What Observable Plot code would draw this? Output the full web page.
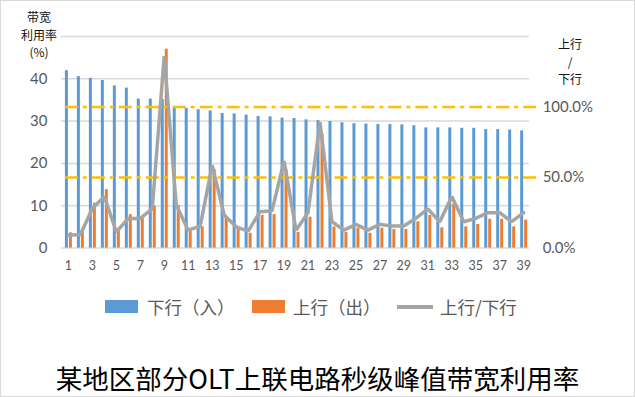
<!DOCTYPE html>
<html><head><meta charset="utf-8">
<script src="https://cdn.jsdelivr.net/npm/d3@7"></script>
<script src="https://cdn.jsdelivr.net/npm/@observablehq/plot@0.6"></script>
<style>
html,body{margin:0;padding:0;background:#fff}
#wrap{position:relative;width:635px;height:397px;box-sizing:border-box;border:1px solid #d9d9d9;overflow:hidden;font-family:"Noto Sans CJK SC","Noto Sans",sans-serif}
#chart{position:absolute;left:-1px;top:-1px}
.abs{position:absolute;white-space:nowrap}
.yt{position:absolute;width:60px;text-align:center;font-size:12px;line-height:17.5px;height:17.5px;color:#111;white-space:nowrap}
.leg{font-size:17.5px;color:#595959;line-height:20px}
.sw{position:absolute;width:33px;height:13px}
</style></head>
<body>
<div id="wrap">
  <div id="chart"></div>
  <div class="yt" style="left:8px;top:7.25px">带宽</div>
  <div class="yt" style="left:8px;top:24.75px">利用率</div>
  <div class="yt" style="left:8px;top:42.25px">(%)</div>
  <div class="yt" style="left:539px;top:34.25px">上行</div>
  <div class="yt" style="left:539px;top:51.75px">/</div>
  <div class="yt" style="left:539px;top:69.25px">下行</div>
  <div class="sw" style="left:104px;top:299px;background:#5B9BD5"></div>
  <div class="abs leg" style="left:146px;top:296px">下行（入）</div>
  <div class="sw" style="left:251px;top:299px;background:#ED7D31"></div>
  <div class="abs leg" style="left:292px;top:296px">上行（出）</div>
  <div class="abs" style="left:396px;top:304px;width:36px;height:4px;background:#A5A5A5"></div>
  <div class="abs leg" style="left:439px;top:296px">上行/下行</div>
  <div class="abs" style="left:-1px;top:359px;width:635px;text-align:center;font-size:26.5px;line-height:36px;color:#000">某地区部分OLT上联电路秒级峰值带宽利用率</div>
</div>
<script>
const categories = [1,2,3,4,5,6,7,8,9,10,11,12,13,14,15,16,17,18,19,20,21,22,23,24,25,26,27,28,29,30,31,32,33,34,35,36,37,38,39];
const downstream = [41.9,40.5,40.1,39.6,38.3,37.8,35.2,35.2,35.1,33.3,33.0,32.7,32.4,31.8,31.7,31.4,31.1,31.0,30.7,30.6,30.3,30.1,29.9,29.6,29.4,29.3,29.2,29.2,29.1,28.9,28.4,28.4,28.4,28.3,28.3,28.0,28.0,27.9,27.7];
const upstream = [3.6,3.8,10.6,13.8,4.0,7.9,7.0,9.9,47.0,10.1,4.2,5.0,18.6,7.3,4.7,3.5,7.7,7.9,18.5,3.7,7.3,27.0,5.0,3.7,4.7,3.5,4.7,4.4,4.4,6.2,7.7,4.8,10.4,5.0,5.6,6.8,6.8,5.0,6.6];
const ratioPct = [9.1,9.6,28,36.6,11.5,21,21,28,136,30.6,12.7,15.6,58.8,23.5,15.1,12,25.8,26.5,61.7,12.7,25.1,89.2,18.7,12.7,16.8,12.7,16.8,15.6,15.6,21.1,27.8,18.7,36.6,18.7,21.1,25.1,25.1,18.7,25.1];
const xTickLabels = [1,3,5,7,9,11,13,15,17,19,21,23,25,27,29,31,33,35,37,39];
const leftTicks = [0,10,20,30,40,50];
const leftLabelTicks = [0,10,20,30,40];
const rightTicksPct = [0,50,100];
const refLevelsPct = [50,100];
const rightMaxPct = 150;
const leftMax = 50;

const toLeft = p => p * leftMax / rightMaxPct;
const rows = categories.map((c,i) => ({cat:c, down:downstream[i], up:upstream[i], ratio:ratioPct[i]}));

const chart = Plot.plot({
  width: 635, height: 280,
  marginLeft: 61, marginRight: 105, marginTop: 36, marginBottom: 32,
  style: {fontFamily: "Lato, 'Liberation Sans', sans-serif", fontSize: "15px", color: "#595959", background: "transparent"},
  x: {type: "band", domain: categories, padding: 0, axis: null},
  y: {domain: [0, leftMax], axis: null},
  marks: [
    Plot.ruleY(leftTicks, {stroke: "#d9d9d9", strokeWidth: 1.5}),
    Plot.barY(rows, {x: "cat", y: "down", fill: "#5B9BD5", insetLeft: 3, insetRight: 6}),
    Plot.barY(rows, {x: "cat", y: "up", fill: "#ED7D31", insetLeft: 7, insetRight: 2}),
    Plot.ruleY(refLevelsPct, {y: d => toLeft(d), stroke: "#FFC000", strokeWidth: 2.5, strokeDasharray: "13,5,4,5", insetLeft: 4, insetRight: -8}),
    Plot.lineY(rows, {x: "cat", y: d => toLeft(d.ratio), stroke: "#A5A5A5", strokeWidth: 3.5, strokeLinejoin: "miter"}),
    Plot.axisX({ticks: xTickLabels, tickSize: 0, tickPadding: 13, fontSize: 12.5, label: null}),
    Plot.axisY({ticks: leftLabelTicks, anchor: "left", tickSize: 0, tickPadding: 14, label: null}),
    Plot.axisY({ticks: rightTicksPct.map(toLeft), anchor: "right", tickSize: 0, tickPadding: 13, label: null,
      tickFormat: d => (d * rightMaxPct / leftMax).toFixed(1) + "%"})
  ]
});
document.getElementById("chart").appendChild(chart);
</script>
</body></html>
